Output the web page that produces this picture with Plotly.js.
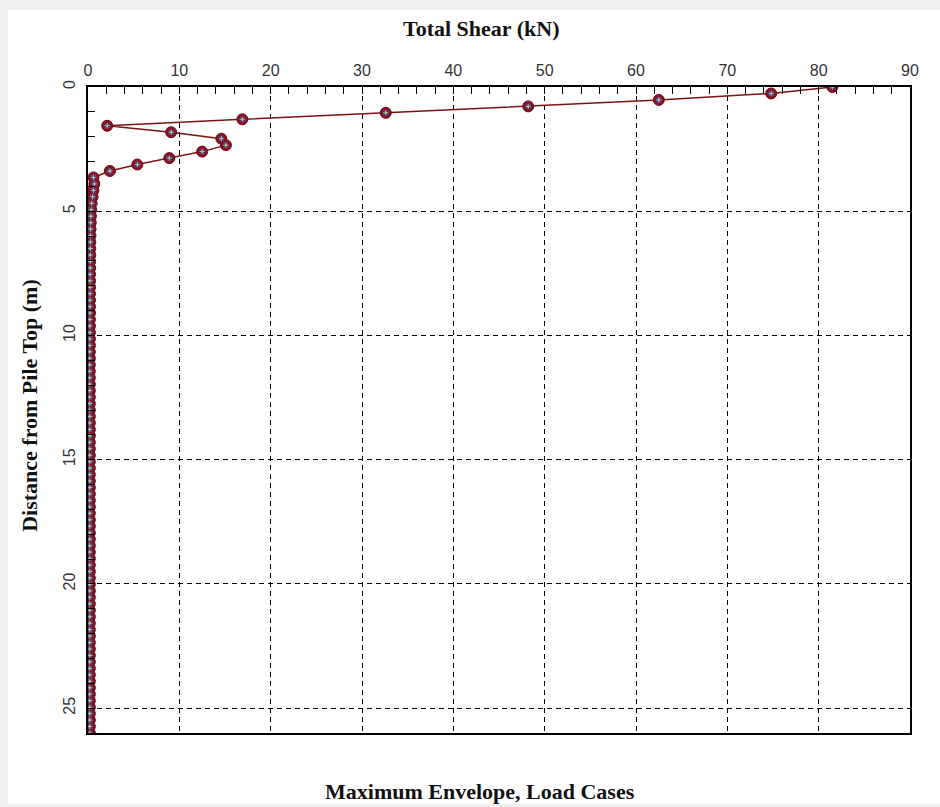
<!DOCTYPE html>
<html>
<head>
<meta charset="utf-8">
<script src="https://cdn.plot.ly/plotly-3.0.1.min.js"></script>
<style>
  html, body { margin: 0; padding: 0; background: #efefef; width: 940px; height: 807px; overflow: hidden; }
  #chart { position: absolute; left: 8px; top: 10px; width: 932px; height: 794px; background: #fff; }
</style>
</head>
<body>
<div id="chart"></div>
<script>
// Depth below pile top (m)
const depth = [0,0.26,0.52,0.78,1.04,1.3,1.56,1.82,2.08,2.34,2.6,2.86,3.12,3.38,3.64,3.9,4.16,4.42,4.68,4.94,
  5.2,5.46,5.72,5.98,6.24,6.5,6.76,7.02,7.28,7.54,7.8,8.06,8.32,8.58,8.84,9.1,9.36,9.62,9.88,10.14,
  10.4,10.66,10.92,11.18,11.44,11.7,11.96,12.22,12.48,12.74,13,13.26,13.52,13.78,14.04,14.3,14.56,14.82,15.08,15.34,
  15.6,15.86,16.12,16.38,16.64,16.9,17.16,17.42,17.68,17.94,18.2,18.46,18.72,18.98,19.24,19.5,19.76,20.02,20.28,20.54,
  20.8,21.06,21.32,21.58,21.84,22.1,22.36,22.62,22.88,23.14,23.4,23.66,23.92,24.18,24.44,24.7,24.96,25.22,25.48,25.74,26];

// Total shear, maximum envelope (kN)
const shear = [81.5,74.8,62.5,48.2,32.6,16.9,2.1,9.1,14.6,15.1,12.5,8.9,5.4,2.4,0.6,0.7,0.6,0.5,0.4,0.35,
  0.32,0.3,0.28,0.27,0.26,0.25,0.25,0.24,0.24,0.23,0.23,0.23,0.22,0.22,0.22,0.22,0.21,0.21,0.21,0.21,
  0.21,0.2,0.2,0.2,0.2,0.2,0.2,0.2,0.2,0.2,0.2,0.2,0.2,0.2,0.2,0.2,0.2,0.2,0.2,0.2,
  0.2,0.2,0.2,0.2,0.2,0.2,0.2,0.2,0.2,0.2,0.2,0.2,0.2,0.2,0.2,0.2,0.2,0.2,0.2,0.2,
  0.2,0.2,0.2,0.2,0.2,0.2,0.2,0.2,0.2,0.2,0.2,0.2,0.2,0.2,0.2,0.2,0.2,0.2,0.2,0.2,0.2];

const xTitle = "Total Shear (kN)";
const yTitle = "Distance from Pile Top (m)";
const bottomTitle = "Maximum Envelope, Load Cases";

const traces = [
  { x: shear, y: depth, mode: 'lines+markers', name: 'Envelope',
    line: { color: '#7a1414', width: 1.5 },
    marker: { symbol: 'circle', size: 11, color: '#8c1022', line: { color: '#6a0a18', width: 1 } } },
  { x: shear, y: depth, mode: 'markers', name: 'LC A',
    marker: { symbol: 'x-thin-open', size: 5, color: '#4858c8', line: { color: '#4858c8', width: 1 } } },
  { x: shear, y: depth, mode: 'markers', name: 'LC B',
    marker: { symbol: 'cross-thin-open', size: 4, color: '#50c8e8', line: { color: '#50c8e8', width: 1 } } },
  { x: shear, y: depth, mode: 'markers', name: 'LC C',
    marker: { symbol: 'circle', size: 2, color: '#e8c850' } }
];

const grid = { showgrid: true, gridcolor: '#000', gridwidth: 1, griddash: '5px,4px' };
const tickFont = { family: 'Liberation Sans, Arial, sans-serif', size: 16, color: '#333' };
const titleFont = { family: 'Liberation Serif, Times New Roman, serif', size: 22, color: '#111', weight: 'bold' };

const layout = {
  width: 932, height: 794,
  margin: { l: 80, r: 30, t: 77, b: 71 },
  paper_bgcolor: '#fff', plot_bgcolor: '#fff',
  showlegend: false,
  xaxis: Object.assign({
    side: 'top', range: [0, 90], tick0: 0, dtick: 10,
    ticks: 'inside', ticklen: 7, tickcolor: '#000', tickwidth: 1, ticklabelstandoff: 3,
    minor: { dtick: 2, ticks: 'inside', ticklen: 7, tickcolor: '#000', showgrid: false },
    showline: true, mirror: true, linecolor: '#000', linewidth: 2, zeroline: false,
    tickfont: tickFont, fixedrange: true
  }, grid),
  yaxis: Object.assign({
    range: [26, 0], tick0: 0, dtick: 5, tickangle: -90,
    ticks: 'inside', ticklen: 7, tickcolor: '#000', tickwidth: 1, ticklabelstandoff: 5,
    minor: { dtick: 1, ticks: 'inside', ticklen: 7, tickcolor: '#000', showgrid: false },
    showline: true, mirror: true, linecolor: '#000', linewidth: 2, zeroline: false,
    tickfont: tickFont, fixedrange: true
  }, grid),
  annotations: [
    { text: xTitle, xref: 'paper', yref: 'paper', x: 0.478, y: 1.0913, xanchor: 'center', yanchor: 'middle',
      showarrow: false, font: titleFont },
    { text: bottomTitle, xref: 'paper', yref: 'paper', x: 0.477, y: -0.0913, xanchor: 'center', yanchor: 'middle',
      showarrow: false, font: titleFont },
    { text: yTitle, xref: 'paper', yref: 'paper', x: -0.0706, y: 0.508, xanchor: 'center', yanchor: 'middle',
      textangle: -90, showarrow: false, font: titleFont }
  ]
};

Plotly.newPlot('chart', traces, layout, { displayModeBar: false, staticPlot: true });
</script>
</body>
</html>
